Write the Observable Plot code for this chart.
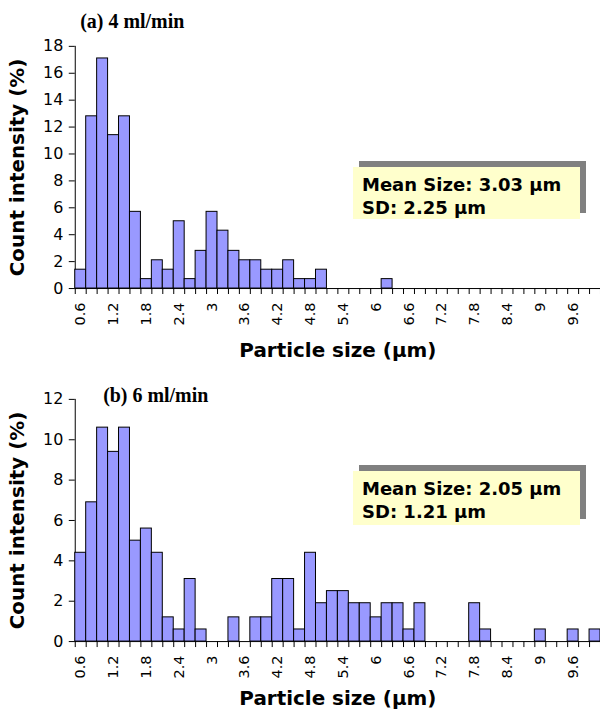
<!DOCTYPE html>
<html><head><meta charset="utf-8">
<script src="https://cdn.jsdelivr.net/npm/d3@7"></script>
<script src="https://cdn.jsdelivr.net/npm/@observablehq/plot@0.6"></script>
<style>
html,body{margin:0;padding:0;background:#fff;overflow:hidden;}
#wrap{position:relative;width:600px;height:713px;overflow:hidden;}
.panel{position:absolute;left:0;}
.note{position:absolute;left:353px;width:227px;background:#ffffcc;box-shadow:6px -6px 0 #808080;
  font-family:"DejaVu Sans";font-weight:bold;font-size:18px;line-height:23px;color:#000;
  box-sizing:border-box;padding-left:9px;padding-top:6px;white-space:nowrap;}
</style></head><body>
<div id="wrap"></div>
<script>
// Bin centres (µm)
const sizes = [0.6,0.8,1.0,1.2,1.4,1.6,1.8,2.0,2.2,2.4,2.6,2.8,3.0,3.2,3.4,3.6,3.8,4.0,4.2,4.4,
  4.6,4.8,5.0,5.2,5.4,5.6,5.8,6.0,6.2,6.4,6.6,6.8,7.0,7.2,7.4,7.6,7.8,8.0,8.2,8.4,
  8.6,8.8,9.0,9.2,9.4,9.6,9.8,10.0];
// Bin edges (µm)
const binEdges = [0.5,0.7,0.9,1.1,1.3,1.5,1.7,1.9,2.1,2.3,2.5,2.7,2.9,3.1,3.3,3.5,3.7,3.9,4.1,4.3,
  4.5,4.7,4.9,5.1,5.3,5.5,5.7,5.9,6.1,6.3,6.5,6.7,6.9,7.1,7.3,7.5,7.7,7.9,8.1,8.3,
  8.5,8.7,8.9,9.1,9.3,9.5,9.7,9.9,10.1];
const binWidth = 0.2;
// Count intensity (%) – (a) 4 ml/min
const countA = [1.4,12.8,17.1,11.4,12.8,5.7,0.7,2.1,1.4,5.0,
  0.7,2.8,5.7,4.3,2.8,2.1,2.1,1.4,1.4,2.1,
  0.7,0.7,1.4,0,0,0,0,0,0.7,0,
  0,0,0,0,0,0,0,0,0,0,
  0,0,0,0,0,0,0,0];
// Count intensity (%) – (b) 6 ml/min
const countB = [4.4,6.9,10.6,9.4,10.6,5.0,5.6,4.4,1.2,0.6,
  3.1,0.6,0,0,1.2,0,1.2,1.2,3.1,3.1,
  0.6,4.4,1.9,2.5,2.5,1.9,1.9,1.2,1.9,1.9,
  0.6,1.9,0,0,0,0,1.9,0.6,0,0,
  0,0,0.6,0,0,0.6,0,0.6];
// Tick labels
const xTickLabels = [0.6,1.2,1.8,2.4,3,3.6,4.2,4.8,5.4,6,6.6,7.2,7.8,8.4,9,9.6];
const yTicksA = [0,2,4,6,8,10,12,14,16,18];
const yTicksB = [0,2,4,6,8,10,12];
// Texts
const titleA = "(a) 4 ml/min";
const titleB = "(b) 6 ml/min";
const yLabel = "Count intensity (%)";
const xLabel = "Particle size (µm)";
const meanA = "3.03", sdA = "2.25";
const meanB = "2.05", sdB = "1.21";

function panel({counts, yMax, yTicks, height, marginTop, marginBottom, title, titleDx, titleDy, xLabelDy}) {
  const data = sizes.map((s, i) => ({size: s, v: counts[i]}));
  const svg = Plot.plot({
    width: 602, height, marginLeft: 75, marginRight: 0, marginTop, marginBottom,
    style: {fontFamily: "DejaVu Sans", fontSize: "14.5px", color: "#000", background: "transparent", overflow: "visible"},
    x: {domain: [0.5, 10.1], ticks: xTickLabels, tickFormat: d => String(d), tickRotate: -90,
        tickSize: 0, tickPadding: 14, line: true, label: null},
    y: {domain: [0, yMax], ticks: yTicks, tickFormat: d => String(d), tickSize: 6, tickPadding: 6, line: true, label: null},
    marks: [
      Plot.rectY(data, {filter: d => d.v > 0, x1: d => d.size - binWidth / 2, x2: d => d.size + binWidth / 2,
        y: "v", fill: "#9999ff", stroke: "#000", strokeWidth: 1}),
      Plot.ruleX(binEdges, {x: d => d, y1: 0, y2: 0, insetBottom: -6, stroke: "#000", strokeWidth: 1}),
      Plot.text([title], {text: d => d, frameAnchor: "top-left", dx: titleDx, dy: titleDy, textAnchor: "start",
        lineAnchor: "middle", fontFamily: "Liberation Serif", fontWeight: "bold", fontSize: 20, fill: "#000"}),
      Plot.text([yLabel], {text: d => d, frameAnchor: "left", dx: -57.5, rotate: -90, textAnchor: "middle",
        lineAnchor: "middle", fontWeight: "bold", fontSize: 20, fill: "#000"}),
      Plot.text([xLabel], {text: d => d, frameAnchor: "bottom", dy: xLabelDy, textAnchor: "middle",
        lineAnchor: "middle", fontWeight: "bold", fontSize: 20, fill: "#000"})
    ]
  });
  // enlarge the y tick labels (texts not belonging to the text marks and not rotated)
  svg.querySelectorAll("text").forEach(t => {
    const g = t.closest("g[aria-label]");
    const lab = g ? g.getAttribute("aria-label") : "";
    if (lab === "text") return;
    const txt = t.textContent;
    if (yTicks.map(String).includes(txt) && !xTickLabels.map(String).includes(txt)) {
      t.style.fontSize = "16px";
    } else if (lab.startsWith("y-axis")) {
      t.style.fontSize = "16px";
    }
  });
  return svg;
}

const wrap = document.getElementById("wrap");
const a = panel({counts: countA, yMax: 18, yTicks: yTicksA, height: 365, marginTop: 46, marginBottom: 76,
  title: titleA, titleDx: 5, titleDy: -24.4, xLabelDy: 62});
a.classList.add("panel"); a.style.top = "0px";
const b = panel({counts: countB, yMax: 12, yTicks: yTicksB, height: 348, marginTop: 34, marginBottom: 71,
  title: titleB, titleDx: 28, titleDy: -3.9, xLabelDy: 57.5});
b.classList.add("panel"); b.style.top = "365px";
wrap.append(a, b);

function note(top, height, mean, sd) {
  const div = document.createElement("div");
  div.className = "note";
  div.style.top = top + "px";
  div.style.height = height + "px";
  div.innerHTML = "Mean Size: " + mean + " µm<br>SD: " + sd + " µm";
  wrap.append(div);
}
note(167, 52, meanA, sdA);
note(471, 54, meanB, sdB);
</script>
</body></html>
